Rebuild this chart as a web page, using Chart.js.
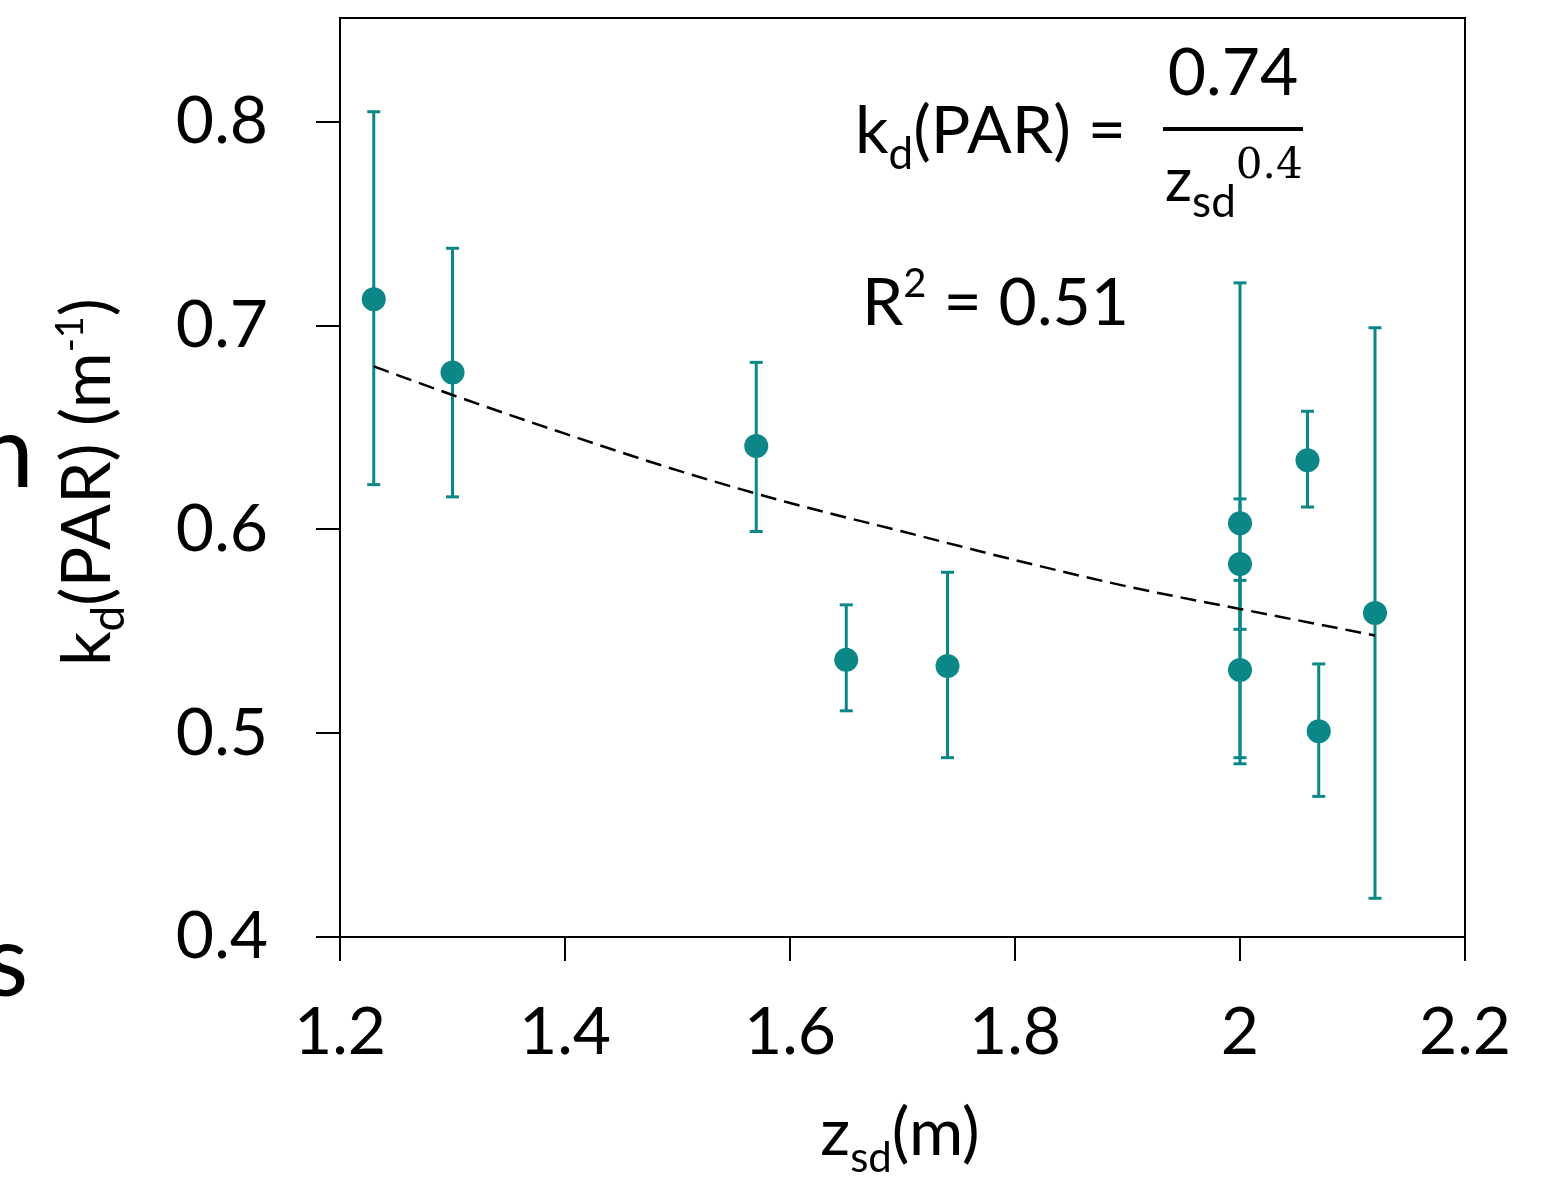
<!DOCTYPE html>
<html>
<head>
<meta charset="utf-8">
<script src="https://cdn.jsdelivr.net/npm/chart.js@4/dist/chart.umd.min.js"></script>
<style>
  body { margin: 0; background: #fff; }
  #wrap { width: 1546px; height: 1179px; }
</style>
</head>
<body>
<div id="wrap"><canvas id="chart"></canvas></div>
<script>
// Secchi depth (m) and diffuse attenuation kd(PAR) with error bar ends
const zsd    = [1.23, 1.30, 1.57, 1.65, 1.74, 2.00, 2.00, 2.00, 2.06, 2.07, 2.12];
const kd     = [0.713, 0.677, 0.641, 0.536, 0.533, 0.603, 0.583, 0.531, 0.634, 0.501, 0.559];
const kdLow  = [0.622, 0.616, 0.599, 0.511, 0.488, 0.485, 0.551, 0.488, 0.611, 0.469, 0.419];
const kdHigh = [0.805, 0.738, 0.682, 0.563, 0.579, 0.721, 0.615, 0.575, 0.658, 0.534, 0.699];

// fitted curve
const fitX = [1.23, 1.30, 1.40, 1.50, 1.60, 1.70, 1.80, 1.90, 2.00, 2.12];
const fitY = [0.680, 0.666, 0.647, 0.629, 0.613, 0.599, 0.585, 0.572, 0.561, 0.548];

const xTicks = [1.2, 1.4, 1.6, 1.8, 2.0, 2.2];
const xTickLabels = ["1.2", "1.4", "1.6", "1.8", "2", "2.2"];
const yTicks = [0.4, 0.5, 0.6, 0.7, 0.8];
const yTickLabels = ["0.4", "0.5", "0.6", "0.7", "0.8"];

const teal = "#0b8787";
const F = "Lato, 'Open Sans', sans-serif";

// draw a run of text pieces (for sub/superscripts), returns end x
function run(ctx, x, y, segs, measureOnly) {
    for (const s of segs) {
        ctx.font = s.size + "px " + (s.family || F);
        if (!measureOnly) ctx.fillText(s.t, x, y + (s.dy || 0));
        x += ctx.measureText(s.t).width;
    }
    return x;
}

const frame = {
    id: "frame",
    beforeDatasetsDraw(chart) {
        const a = chart.chartArea, ctx = chart.ctx;
        ctx.save();
        ctx.strokeStyle = "#000";
        ctx.lineWidth = 2;
        ctx.strokeRect(a.left, a.top, a.right - a.left, a.bottom - a.top);
        ctx.restore();
    }
};

const texts = {
    id: "texts",
    afterDraw(chart) {
        const ctx = chart.ctx;
        ctx.save();
        ctx.fillStyle = "#000";
        ctx.textAlign = "left";
        ctx.textBaseline = "alphabetic";

        // equation
        run(ctx, 855, 153, [
            { t: "k", size: 66 },
            { t: "d", size: 44, dy: 16 },
            { t: "(PAR) =", size: 66 }
        ]);
        const num = [{ t: "0.74", size: 66 }];
        const nw = run(ctx, 0, 0, num, true);
        run(ctx, 1233 - nw / 2, 95, num);
        ctx.fillRect(1163, 127, 140, 4);
        run(ctx, 1165, 201, [
            { t: "z", size: 60 },
            { t: "sd", size: 44, dy: 16 },
            { t: "0.4", size: 42, dy: -23, family: "'DejaVu Serif', serif" }
        ]);

        run(ctx, 862, 325, [
            { t: "R", size: 66 },
            { t: "2", size: 40, dy: -28 },
            { t: " = 0.51", size: 66 }
        ]);

        // x axis title
        const xt = [
            { t: "z", size: 66 },
            { t: "sd", size: 42, dy: 17 },
            { t: "(m)", size: 66 }
        ];
        const xw = run(ctx, 0, 0, xt, true);
        run(ctx, 900 - xw / 2, 1155, xt);

        // y axis title (rotated)
        const yt = [
            { t: "k", size: 68 },
            { t: "d", size: 46, dy: 14 },
            { t: "(PAR) (m", size: 68 },
            { t: "-1", size: 38, dy: -27 },
            { t: ")", size: 68 }
        ];
        const yw = run(ctx, 0, 0, yt, true);
        ctx.translate(110, 482);
        ctx.rotate(-Math.PI / 2);
        run(ctx, -yw / 2, 0, yt);
        ctx.setTransform(1, 0, 0, 1, 0, 0);

        // cut-off letters from the neighbouring panel
        ctx.font = "100px " + F;
        ctx.fillText("n", -22, 487);
        ctx.fillText("s", -15, 996);
        ctx.restore();
    }
};

const datasets = [
    {
        label: "kd",
        data: zsd.map((x, i) => ({ x: x, y: kd[i] })),
        backgroundColor: teal,
        borderColor: teal,
        pointRadius: 12,
        pointBorderWidth: 0,
        showLine: false
    },
    {
        label: "fit",
        data: fitX.map((x, i) => ({ x: x, y: fitY[i] })),
        showLine: true,
        borderColor: "#000",
        borderWidth: 2.5,
        borderDash: [16, 8],
        pointRadius: 0,
        cubicInterpolationMode: "monotone",
        fill: false
    }
];
zsd.forEach((x, i) => {
    datasets.push({
        label: "err" + i,
        data: [{ x: x, y: kdLow[i] }, { x: x, y: kdHigh[i] }],
        showLine: true,
        borderColor: teal,
        borderWidth: 3,
        pointStyle: "line",
        pointRadius: 6.5,
        pointBorderWidth: 3,
        pointBorderColor: teal,
        fill: false
    });
});

const tickFont = { family: F, size: 66 };

function noPad(s) {
    s.paddingTop = 0;
    s.paddingBottom = 0;
    s.paddingLeft = 0;
    s.paddingRight = 0;
}

new Chart(document.getElementById("chart"), {
    type: "scatter",
    data: { datasets: datasets },
    options: {
        responsive: true,
        maintainAspectRatio: false,
        animation: false,
        layout: { padding: { top: 18, right: 81, left: 0, bottom: 0 } },
        plugins: {
            legend: { display: false },
            tooltip: { enabled: false }
        },
        scales: {
            x: {
                type: "linear",
                min: 1.2,
                max: 2.2,
                afterBuildTicks: s => { s.ticks = xTicks.map(v => ({ value: v })); },
                afterFit: s => { s.height = 242; noPad(s); },
                ticks: {
                    font: tickFont,
                    color: "#000",
                    padding: 32,
                    maxRotation: 0,
                    callback: (v, i) => xTickLabels[i]
                },
                grid: { drawOnChartArea: false, tickLength: 24, color: "#000", lineWidth: 2 },
                border: { color: "#000", width: 2 }
            },
            y: {
                type: "linear",
                min: 0.4,
                max: 0.851,
                afterBuildTicks: s => { s.ticks = yTicks.map(v => ({ value: v })); },
                afterFit: s => { s.width = 340; noPad(s); },
                ticks: {
                    font: tickFont,
                    color: "#000",
                    padding: 48,
                    callback: (v, i) => yTickLabels[i]
                },
                grid: { drawOnChartArea: false, tickLength: 24, color: "#000", lineWidth: 2 },
                border: { color: "#000", width: 2 }
            }
        }
    },
    plugins: [frame, texts]
});
</script>
</body>
</html>
